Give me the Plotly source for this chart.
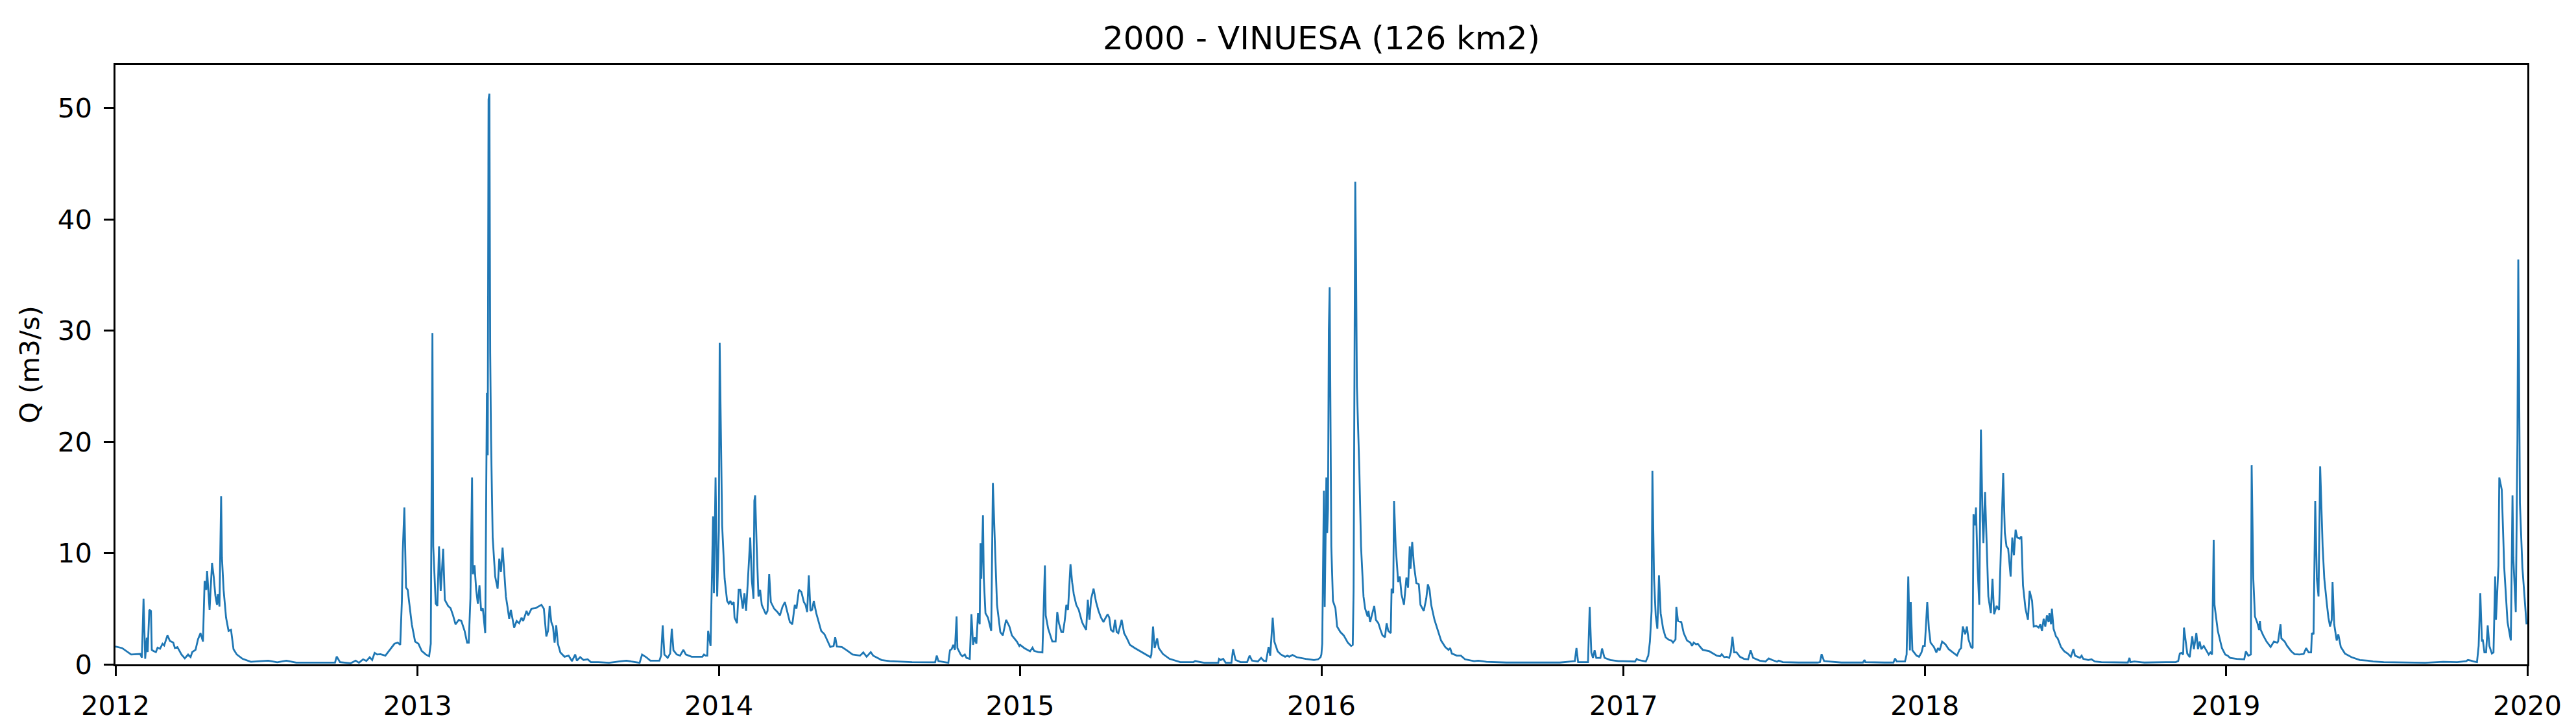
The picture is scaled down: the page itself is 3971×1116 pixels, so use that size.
import pandas as pd
import plotly.graph_objects as go

# Daily discharge.
# doy_YYYY = day of year (0 = 1 Jan), q_YYYY = Q in m3/s
doy_2012 = [0, 8, 19, 30, 32, 34, 36, 38, 39, 41, 43, 44, 46, 49, 51, 54, 57, 59, 63, 66,
            70, 72, 75, 80, 84, 88, 91, 93, 97, 100, 103, 106, 108, 110, 111, 114, 116, 117, 119, 121,
            123, 124, 126, 128, 129, 131, 134, 137, 140, 143, 147, 154, 164, 185, 196, 207, 219, 232, 258, 266,
            268, 272, 285, 291, 295, 300, 304, 308, 311, 314, 317, 321, 327, 333, 338, 342, 345, 347, 348, 350,
            352, 354, 359, 363]
q_2012 = [1.6, 1.46, 0.88, 0.93, 0.6, 5.9, 0.5, 2.4, 1.1, 4.9, 4.8, 1.3, 1.2, 1.1, 1.5, 1.4, 1.85, 1.7, 2.6, 2.1,
          1.95, 1.46, 1.55, 0.88, 0.53, 0.88, 0.65, 1.1, 1.3, 2.25, 2.8, 2.05, 7.5, 6.7, 8.4, 4.9, 7.7, 9.1, 7.9, 6.2,
          5.35, 6.3, 5.2, 15.1, 9.6, 6.7, 4.2, 3.0, 3.1, 1.36, 0.88, 0.49, 0.23, 0.33, 0.18, 0.33, 0.15, 0.14, 0.14, 0.15,
          0.7, 0.2, 0.1, 0.33, 0.14, 0.45, 0.3, 0.64, 0.39, 1.03, 0.88, 0.91, 0.78, 1.36, 1.85, 1.95, 1.75, 5.7, 10.0, 14.1,
          6.9, 6.7, 3.6, 2.05]

doy_2013 = [1, 5, 10, 14, 16, 18, 19, 22, 24, 26, 28, 29, 31, 33, 37, 40, 43, 46, 50, 53,
            55, 57, 60, 62, 64, 66, 67, 69, 71, 73, 75, 77, 79, 80, 82, 84, 85, 86, 87, 88,
            89, 91, 94, 97, 99, 101, 103, 105, 107, 109, 111, 113, 115, 117, 120, 123, 126, 128, 132, 134,
            138, 143, 150, 153, 156, 158, 160, 162, 164, 166, 168, 170, 173, 178, 183, 187, 191, 193, 197, 201,
            206, 210, 219, 232, 244, 253, 259, 269, 272, 277, 282, 293, 295, 297, 299, 303, 306, 308, 310, 314,
            318, 322, 325, 332, 345, 347, 349, 351, 352, 355, 358, 359, 361, 363]
q_2013 = [1.85, 1.2, 0.88, 0.72, 1.85, 29.8, 10.6, 5.45, 5.25, 10.6, 6.6, 7.7, 10.4, 5.8, 5.25, 5.05, 4.4, 3.6, 4.0, 3.9,
          3.4, 3.0, 1.95, 1.95, 5.9, 16.8, 8.1, 8.9, 6.7, 5.45, 7.1, 4.8, 5.05, 4.2, 2.8, 24.4, 18.8, 50.8, 51.3, 28.0,
          20.3, 11.4, 7.9, 6.8, 9.5, 8.3, 10.5, 8.3, 6.1, 5.15, 4.1, 4.9, 4.0, 3.3, 3.9, 3.7, 4.2, 3.9, 4.8, 4.4,
          5.0, 5.05, 5.35, 5.0, 2.5, 3.0, 5.25, 3.8, 3.4, 1.95, 3.5, 1.85, 1.07, 0.68, 0.78, 0.29, 0.88, 0.33, 0.64, 0.39,
          0.45, 0.2, 0.2, 0.14, 0.25, 0.33, 0.25, 0.14, 0.88, 0.64, 0.33, 0.33, 0.78, 3.5, 0.88, 0.58, 0.97, 3.2, 1.26, 0.88,
          0.78, 1.3, 0.88, 0.68, 0.68, 0.88, 0.78, 0.78, 3.0, 1.65, 13.3, 6.4, 16.8, 6.1]

doy_2014 = [0, 1, 4, 7, 10, 12, 14, 16, 18, 19, 22, 24, 26, 29, 31, 33, 35, 38, 40, 42,
            43, 44, 46, 48, 50, 52, 54, 57, 59, 61, 63, 67, 71, 74, 77, 80, 82, 86, 89, 92,
            94, 97, 100, 103, 105, 107, 109, 111, 113, 115, 118, 124, 128, 132, 135, 139, 141, 143, 149, 155,
            162, 171, 175, 179, 184, 187, 197, 207, 221, 234, 260, 262, 264, 266, 278, 280, 282, 284, 286, 288,
            289, 293, 295, 298, 300, 304, 306, 308, 310, 312, 314, 316, 317, 318, 320, 321, 323, 326, 330, 332,
            335, 337, 341, 344, 348, 352, 355, 361, 364]
q_2014 = [12.0, 28.9, 12.5, 7.7, 5.7, 5.45, 5.7, 5.35, 5.6, 4.2, 3.7, 6.7, 6.7, 5.0, 6.4, 4.8, 7.3, 11.4, 7.5, 5.9,
          14.7, 15.2, 10.2, 6.1, 6.7, 5.35, 5.0, 4.5, 4.8, 8.1, 5.6, 5.0, 4.7, 4.4, 5.15, 5.6, 5.0, 3.8, 3.6, 5.35,
          5.0, 6.7, 6.5, 5.6, 5.35, 4.7, 8.0, 4.8, 4.9, 5.7, 4.6, 3.0, 2.7, 2.05, 1.56, 1.65, 2.43, 1.6, 1.56, 1.26,
          0.88, 0.78, 1.07, 0.68, 1.1, 0.78, 0.39, 0.29, 0.23, 0.2, 0.18, 0.18, 0.78, 0.29, 0.14, 1.26, 1.36, 1.75, 1.3, 4.3,
          1.46, 0.88, 0.72, 0.88, 0.58, 0.49, 4.5, 1.75, 2.43, 1.85, 4.6, 3.6, 10.9, 7.7, 13.4, 7.7, 4.6, 4.2, 3.0, 16.3,
          9.6, 5.35, 2.9, 2.6, 4.0, 3.4, 2.6, 2.05, 1.65]

doy_2015 = [0, 5, 12, 15, 17, 22, 27, 30, 31, 34, 37, 39, 43, 45, 47, 50, 52, 54, 56, 58,
            61, 63, 65, 68, 71, 75, 77, 80, 82, 84, 86, 89, 92, 95, 98, 101, 103, 106, 108, 110,
            113, 115, 117, 119, 123, 126, 130, 133, 139, 145, 152, 158, 159, 161, 163, 166, 168, 173, 181, 194,
            210, 212, 223, 240, 241, 243, 246, 249, 256, 258, 261, 267, 275, 278, 281, 288, 292, 295, 298, 301,
            303, 306, 308, 312, 316, 321, 324, 326, 330, 335, 346, 356, 361, 364]
q_2015 = [1.75, 1.46, 1.17, 1.5, 1.2, 1.1, 1.07, 8.9, 4.4, 3.2, 2.43, 2.05, 2.05, 4.7, 3.7, 2.9, 2.9, 3.9, 5.35, 4.9,
          9.0, 7.4, 6.3, 5.35, 4.9, 3.8, 3.5, 3.1, 5.8, 4.0, 5.9, 6.8, 5.6, 4.8, 4.2, 3.8, 4.1, 4.5, 4.2, 3.1,
          2.9, 4.0, 2.9, 2.8, 4.0, 2.8, 2.24, 1.75, 1.46, 1.2, 0.88, 0.64, 0.88, 3.4, 1.46, 2.33, 1.46, 0.93, 0.49, 0.2,
          0.2, 0.29, 0.14, 0.14, 0.49, 0.39, 0.49, 0.14, 0.14, 1.36, 0.39, 0.2, 0.2, 0.78, 0.33, 0.25, 0.58, 0.33, 0.29, 1.56,
          0.78, 4.2, 2.05, 1.17, 0.88, 0.68, 0.78, 0.68, 0.84, 0.64, 0.49, 0.39, 0.45, 0.64]

doy_2016 = [0, 1, 3, 4, 6, 7, 8, 9, 10, 11, 12, 14, 17, 19, 23, 27, 30, 32, 36, 38,
            39, 40, 41, 42, 43, 46, 48, 51, 53, 56, 57, 59, 61, 64, 66, 69, 72, 74, 77, 79,
            81, 84, 85, 87, 88, 90, 93, 95, 97, 100, 103, 105, 107, 108, 110, 112, 115, 118, 120, 124,
            127, 129, 131, 133, 137, 141, 145, 150, 154, 156, 158, 164, 169, 174, 185, 190, 200, 224, 263, 289,
            307, 309, 311, 323, 325, 327, 329, 331, 333, 338, 340, 343, 350, 360, 365]
q_2016 = [0.9, 1.85, 15.6, 5.15, 16.8, 11.8, 14.0, 30.0, 33.9, 20.0, 10.6, 5.7, 5.05, 3.4, 2.9, 2.6, 2.24, 1.95, 1.65, 1.75,
          6.7, 26.0, 43.4, 36.0, 25.0, 17.4, 10.6, 6.1, 5.0, 4.3, 4.8, 3.8, 4.4, 5.25, 4.0, 3.7, 3.0, 2.6, 2.43, 3.7,
          3.0, 2.8, 6.8, 6.4, 14.7, 10.6, 7.4, 7.9, 6.3, 5.35, 7.8, 6.9, 10.6, 8.6, 11.0, 9.0, 7.3, 7.2, 5.35, 4.8,
          5.9, 7.2, 6.7, 5.35, 4.0, 3.0, 2.14, 1.56, 1.3, 1.46, 0.97, 0.78, 0.78, 0.45, 0.29, 0.33, 0.23, 0.16, 0.14, 0.16,
          0.29, 1.46, 0.2, 0.2, 5.15, 1.07, 0.58, 1.26, 0.58, 0.58, 1.42, 0.58, 0.39, 0.29, 0.29]

doy_2017 = [2, 14, 16, 18, 27, 30, 32, 34, 35, 37, 39, 41, 43, 45, 48, 51, 55, 58, 60, 62,
            63, 64, 66, 70, 73, 77, 81, 83, 85, 88, 90, 93, 96, 104, 110, 113, 117, 119, 122, 125,
            128, 130, 132, 134, 137, 141, 146, 151, 154, 157, 165, 172, 176, 180, 186, 188, 193, 212, 235, 238,
            240, 243, 264, 290, 292, 293, 316, 327, 329, 331, 341, 343, 345, 347, 348, 350, 355, 358, 361, 363]
q_2017 = [0.29, 0.25, 0.49, 0.39, 0.25, 0.78, 2.05, 4.8, 17.4, 7.7, 4.4, 3.2, 8.0, 4.6, 3.2, 2.43, 2.2, 2.14, 1.95, 2.14,
          2.24, 5.15, 3.9, 3.8, 2.8, 2.14, 1.95, 1.65, 1.95, 1.8, 1.85, 1.56, 1.3, 1.17, 0.88, 0.78, 0.72, 0.91, 0.64, 0.68,
          0.58, 1.07, 2.47, 1.07, 1.07, 0.68, 0.49, 0.45, 1.26, 0.58, 0.33, 0.25, 0.53, 0.39, 0.23, 0.33, 0.2, 0.16, 0.16, 0.2,
          0.91, 0.29, 0.16, 0.16, 0.39, 0.2, 0.16, 0.16, 0.53, 0.25, 0.25, 0.88, 7.9, 1.26, 5.6, 1.26, 0.78, 0.68, 1.07, 1.65]

doy_2018 = [0, 3, 5, 7, 11, 14, 16, 18, 21, 25, 29, 34, 39, 42, 44, 46, 49, 51, 53, 56,
            58, 59, 61, 62, 64, 66, 68, 70, 71, 73, 75, 77, 80, 82, 84, 87, 90, 93, 95, 97,
            99, 101, 104, 106, 108, 110, 112, 115, 117, 119, 122, 125, 127, 130, 132, 135, 138, 140, 142, 144,
            146, 148, 150, 151, 153, 154, 156, 159, 161, 165, 169, 173, 177, 180, 182, 188, 190, 192, 198, 202,
            206, 214, 240, 246, 248, 249, 254, 266, 292, 304, 307, 309, 311, 313, 314, 316, 318, 321, 324, 326,
            329, 331, 333, 335, 338, 341, 344, 346, 348, 350, 351, 355, 360, 364]
q_2018 = [1.65, 5.6, 3.2, 1.95, 1.56, 1.07, 1.46, 1.26, 2.05, 1.8, 1.36, 1.07, 0.78, 1.3, 1.46, 3.4, 2.7, 3.4, 2.24, 1.56,
          1.46, 13.5, 12.5, 14.1, 8.7, 5.35, 21.1, 12.9, 10.9, 15.5, 10.6, 6.1, 4.6, 7.7, 4.5, 5.25, 4.9, 12.4, 17.2, 11.8,
          10.6, 10.4, 7.9, 11.4, 9.8, 12.1, 11.4, 11.3, 11.5, 7.1, 5.0, 4.0, 6.6, 5.7, 3.4, 3.45, 3.3, 3.6, 3.0, 4.1,
          3.4, 4.4, 3.8, 4.6, 3.6, 5.0, 3.2, 2.5, 2.33, 1.56, 1.17, 0.97, 0.68, 1.36, 0.78, 0.58, 0.78, 0.49, 0.39, 0.45,
          0.25, 0.2, 0.16, 0.16, 0.58, 0.2, 0.25, 0.16, 0.2, 0.2, 0.29, 0.97, 1.03, 0.88, 3.3, 2.24, 0.97, 0.64, 2.53, 1.36,
          2.8, 1.36, 2.05, 1.36, 1.65, 1.26, 0.88, 1.07, 0.88, 11.2, 5.35, 3.0, 1.46, 0.88]

doy_2019 = [2, 5, 13, 22, 24, 27, 30, 31, 33, 35, 38, 40, 41, 42, 45, 49, 54, 58, 62, 63,
            66, 67, 71, 74, 79, 83, 89, 94, 97, 100, 103, 104, 106, 108, 110, 112, 114, 117, 119, 122,
            124, 126, 128, 129, 131, 134, 136, 139, 144, 152, 162, 172, 178, 191, 215, 241, 263, 280, 291, 293,
            297, 300, 304, 306, 308, 310, 311, 313, 315, 317, 319, 322, 324, 326, 327, 330, 331, 334, 337, 341,
            345, 347, 348, 351, 353, 354, 355, 356, 359, 362, 364]
q_2019 = [0.78, 0.58, 0.49, 0.45, 1.17, 0.78, 0.88, 17.9, 7.7, 4.3, 3.7, 3.1, 3.9, 3.1, 2.6, 2.05, 1.56, 2.05, 1.95, 2.05,
          3.6, 2.33, 2.05, 1.65, 1.17, 0.91, 0.88, 0.93, 1.46, 1.07, 1.07, 2.8, 2.7, 14.7, 7.7, 6.1, 17.8, 10.6, 7.7, 5.5,
          4.2, 3.4, 4.0, 7.4, 3.6, 2.14, 2.7, 1.56, 0.97, 0.64, 0.39, 0.33, 0.25, 0.2, 0.16, 0.14, 0.23, 0.2, 0.29, 0.39,
          0.33, 0.25, 0.2, 1.65, 6.4, 2.05, 2.24, 1.07, 1.07, 3.5, 1.65, 0.97, 1.07, 7.9, 4.0, 8.9, 16.8, 15.7, 8.7, 3.8,
          2.14, 15.2, 9.6, 4.7, 20.3, 36.4, 26.0, 14.5, 8.7, 5.7, 3.6]

y_ticks = [0, 10, 20, 30, 40, 50]

series = [
    (2012, doy_2012, q_2012), (2013, doy_2013, q_2013), (2014, doy_2014, q_2014),
    (2015, doy_2015, q_2015), (2016, doy_2016, q_2016), (2017, doy_2017, q_2017),
    (2018, doy_2018, q_2018), (2019, doy_2019, q_2019),
]

frames = []
for yr, d_, q_ in series:
    assert len(d_) == len(q_), yr
    frames.append(pd.DataFrame({
        'date': pd.Timestamp(f'{yr}-01-01') + pd.to_timedelta(d_, unit='D'),
        'q': q_,
    }))
df = pd.concat(frames, ignore_index=True)

fig = go.Figure(
    go.Scatter(
        x=df['date'], y=df['q'],
        mode='lines',
        line=dict(color='#1f77b4', width=2.8),
        showlegend=False,
    )
)

# matplotlib-like box axes (0.8pt spines, 3.5pt outward ticks at ~300 dpi)
axis_style = dict(
    showline=True, linecolor='black', linewidth=3.3, mirror=True,
    ticks='outside', ticklen=14.6, tickwidth=3.3, tickcolor='black',
    showgrid=False, zeroline=False,
    tickfont=dict(size=41.7),
)

fig.update_layout(
    width=3971,
    height=1116,
    margin=dict(l=170, r=83, t=92, b=100, pad=0),
    paper_bgcolor='white',
    plot_bgcolor='white',
    font=dict(family='DejaVu Sans', size=41.7, color='black'),
    title=dict(
        text='2000 - VINUESA (126 km2)',
        x=0.5, xref='paper', xanchor='center',
        y=1 - 50 / 1116, yref='container', yanchor='middle',
        font=dict(size=50),
    ),
    xaxis=dict(
        range=['2012-01-01', '2020-01-01'],
        tick0='2012-01-01', dtick='M12', tickformat='%Y',
        ticklabelstandoff=10,
        **axis_style,
    ),
    yaxis=dict(
        range=[0, 53.9],
        tickvals=y_ticks,
        ticklabelstandoff=10,
        title=dict(text='Q (m3/s)', standoff=16, font=dict(size=41.7)),
        **axis_style,
    ),
)

fig.write_html('out.html')
